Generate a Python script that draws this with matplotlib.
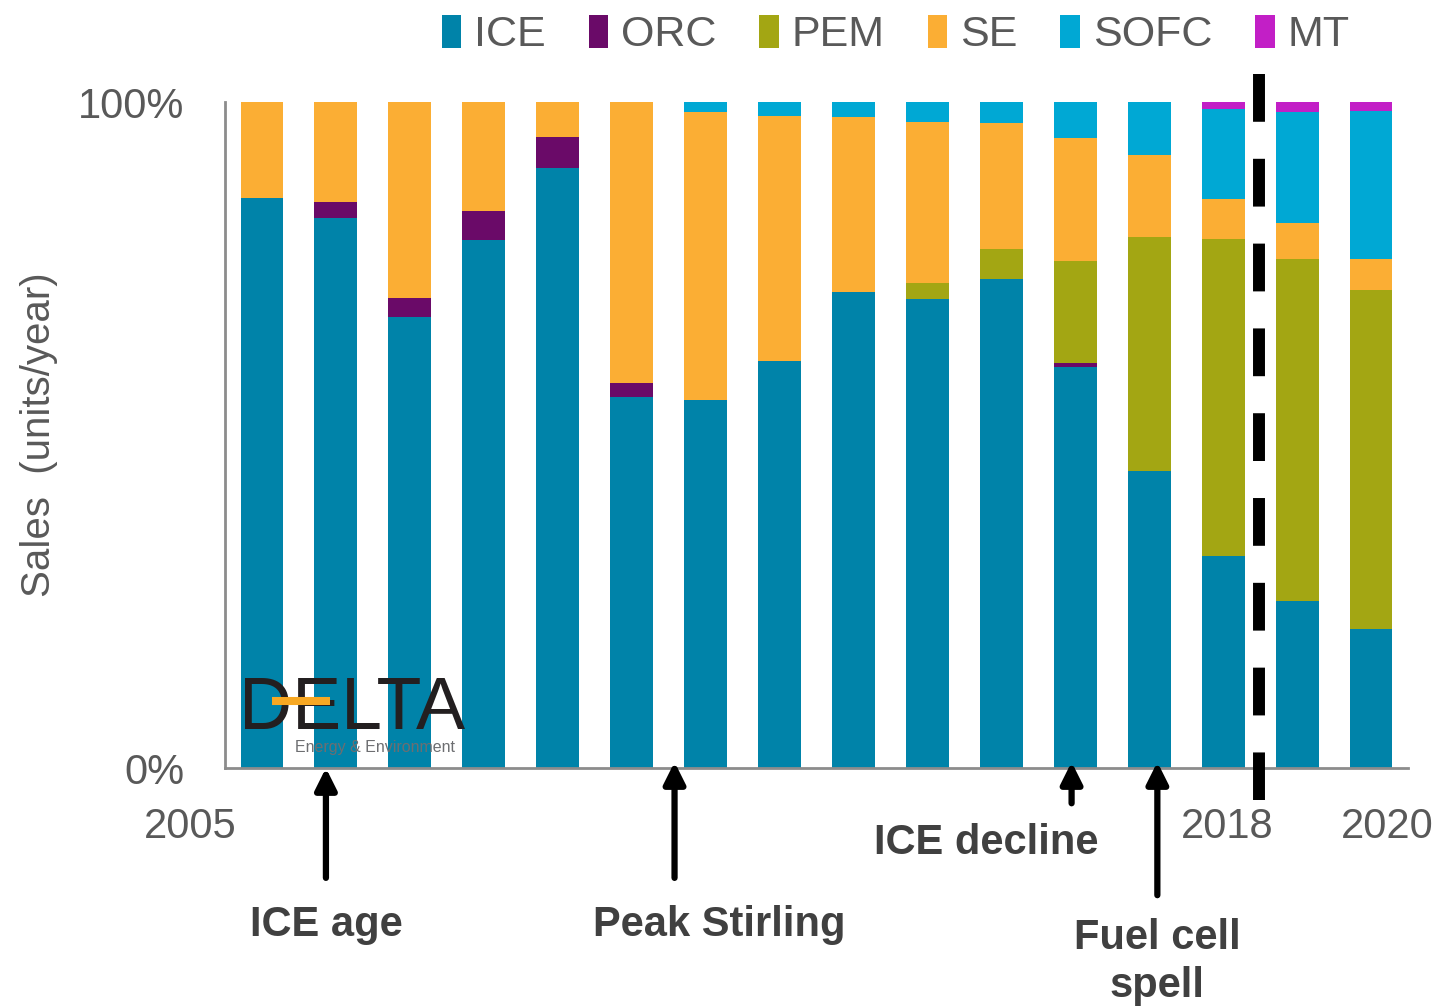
import numpy as np
import matplotlib.pyplot as plt
from matplotlib.patches import Patch

plt.rcParams['font.family'] = ['Liberation Sans', 'DejaVu Sans']

years = list(range(2005, 2021))
techs = ["ICE", "ORC", "PEM", "SE", "SOFC", "MT"]
colors = ["#0083A9", "#6A0A68", "#A3A613", "#FBAE34", "#00A8D4", "#C21FC6"]

# share of sales, %
ice = [85.6, 82.6, 67.7, 79.3, 90.1, 55.7, 55.3, 61.1, 71.5, 70.4, 73.4, 60.2, 44.6, 31.8, 25.1, 20.9]
orc = [0, 2.4, 2.9, 4.3, 4.6, 2.1, 0, 0, 0, 0, 0, 0.6, 0, 0, 0, 0]
pem = [0, 0, 0, 0, 0, 0, 0, 0, 0, 2.4, 4.5, 15.3, 35.2, 47.6, 51.4, 50.8]
se = [14.4, 15.0, 29.4, 16.4, 5.3, 42.2, 43.2, 36.8, 26.2, 24.2, 18.9, 18.5, 12.3, 6.1, 5.4, 4.8]
sofc = [0, 0, 0, 0, 0, 0, 1.5, 2.1, 2.3, 3.0, 3.2, 5.4, 7.9, 13.4, 16.6, 22.2]
mt = [0] * 13 + [1.1, 1.5, 1.3]
series = [ice, orc, pem, se, sofc, mt]

fig = plt.figure(figsize=(14.4, 10.06), dpi=100)
ax = fig.add_axes([225 / 1440, 1 - 768 / 1006, (1408 - 225) / 1440, 666 / 1006])

x = np.arange(len(years))
bottom = np.zeros(len(years))
for name, vals, c in zip(techs, series, colors):
    vals = np.array(vals)
    ax.bar(x, vals, width=0.58, bottom=bottom, color=c, label=name, zorder=2)
    bottom += vals

ax.set_xlim(-0.5, 15.5)
ax.set_ylim(0, 100)
for s in ["top", "right"]:
    ax.spines[s].set_visible(False)
for s in ["left", "bottom"]:
    ax.spines[s].set_color("#8c8c8c")
    ax.spines[s].set_linewidth(2)
ax.set_xticks([])
ax.set_yticks([0, 100])
ax.set_yticklabels(["0%", "100%"], fontsize=30, color="#595959")
ax.tick_params(axis="y", length=0, pad=29)
ax.set_ylabel("Sales  (units/year)", fontsize=29, color="#595959")
ax.yaxis.set_label_coords(-0.141, 0.5)

grey = "#595959"
ax.text(-0.97, -8.8, "2005", fontsize=30, color=grey, ha="center", va="center", clip_on=False)
ax.text(13.05, -8.8, "2018", fontsize=30, color=grey, ha="center", va="center", clip_on=False)
ax.text(15.22, -8.8, "2020", fontsize=30, color=grey, ha="center", va="center", clip_on=False)

# forecast divider
ax.plot([13.49, 13.49], [104.2, -4.8], color="black", lw=8.6, dashes=(4, 3.1),
        solid_capstyle="butt", dash_capstyle="butt", clip_on=False, zorder=5)

# arrows and notes
arrows = [(0.865, -16.5, 0.0), (5.58, -16.5, 0.9), (10.95, -5.3, 0.9), (12.11, -19.1, 0.9)]
for ax_x, y0, y1 in arrows:
    ax.annotate("", xy=(ax_x, y1), xytext=(ax_x, y0), annotation_clip=False,
                arrowprops=dict(arrowstyle="-|>", lw=4.5, color="black", mutation_scale=32,
                                shrinkA=0, shrinkB=0))

dark = "#404040"
ax.text(0.865, -23.5, "ICE age", fontsize=30, fontweight="bold", color=dark, ha="center", va="center", clip_on=False)
ax.text(6.19, -23.5, "Peak Stirling", fontsize=30, fontweight="bold", color=dark, ha="center", va="center", clip_on=False)
ax.text(9.79, -11.2, "ICE decline", fontsize=30, fontweight="bold", color=dark, ha="center", va="center", clip_on=False)
ax.text(12.11, -29.1, "Fuel cell\nspell", fontsize=30, fontweight="bold", color=dark, ha="center", va="center",
        linespacing=1.25, clip_on=False)

# logo
ax.text(-0.31, 5.9, "DELTA", fontsize=53, color="#231f20", ha="left", va="baseline", zorder=6)
ax.plot([0.135, 0.92], [10.06, 10.06], color="#F7A823", lw=5.8, solid_capstyle="butt", zorder=7)
ax.text(0.45, 3.1, "Energy & Environment", fontsize=11.5, color="#6d6e71", ha="left", va="center", zorder=6)

handles = [Patch(facecolor=c, label=t) for t, c in zip(techs, colors)]
fig.legend(handles=handles, loc="center", bbox_to_anchor=(0.622, 0.965), ncol=6, frameon=False,
           fontsize=31, handlelength=0.45, handleheight=0.8, handletextpad=0.3, columnspacing=1.0,
           labelcolor="#595959")

fig.savefig("out.png", dpi=100)
